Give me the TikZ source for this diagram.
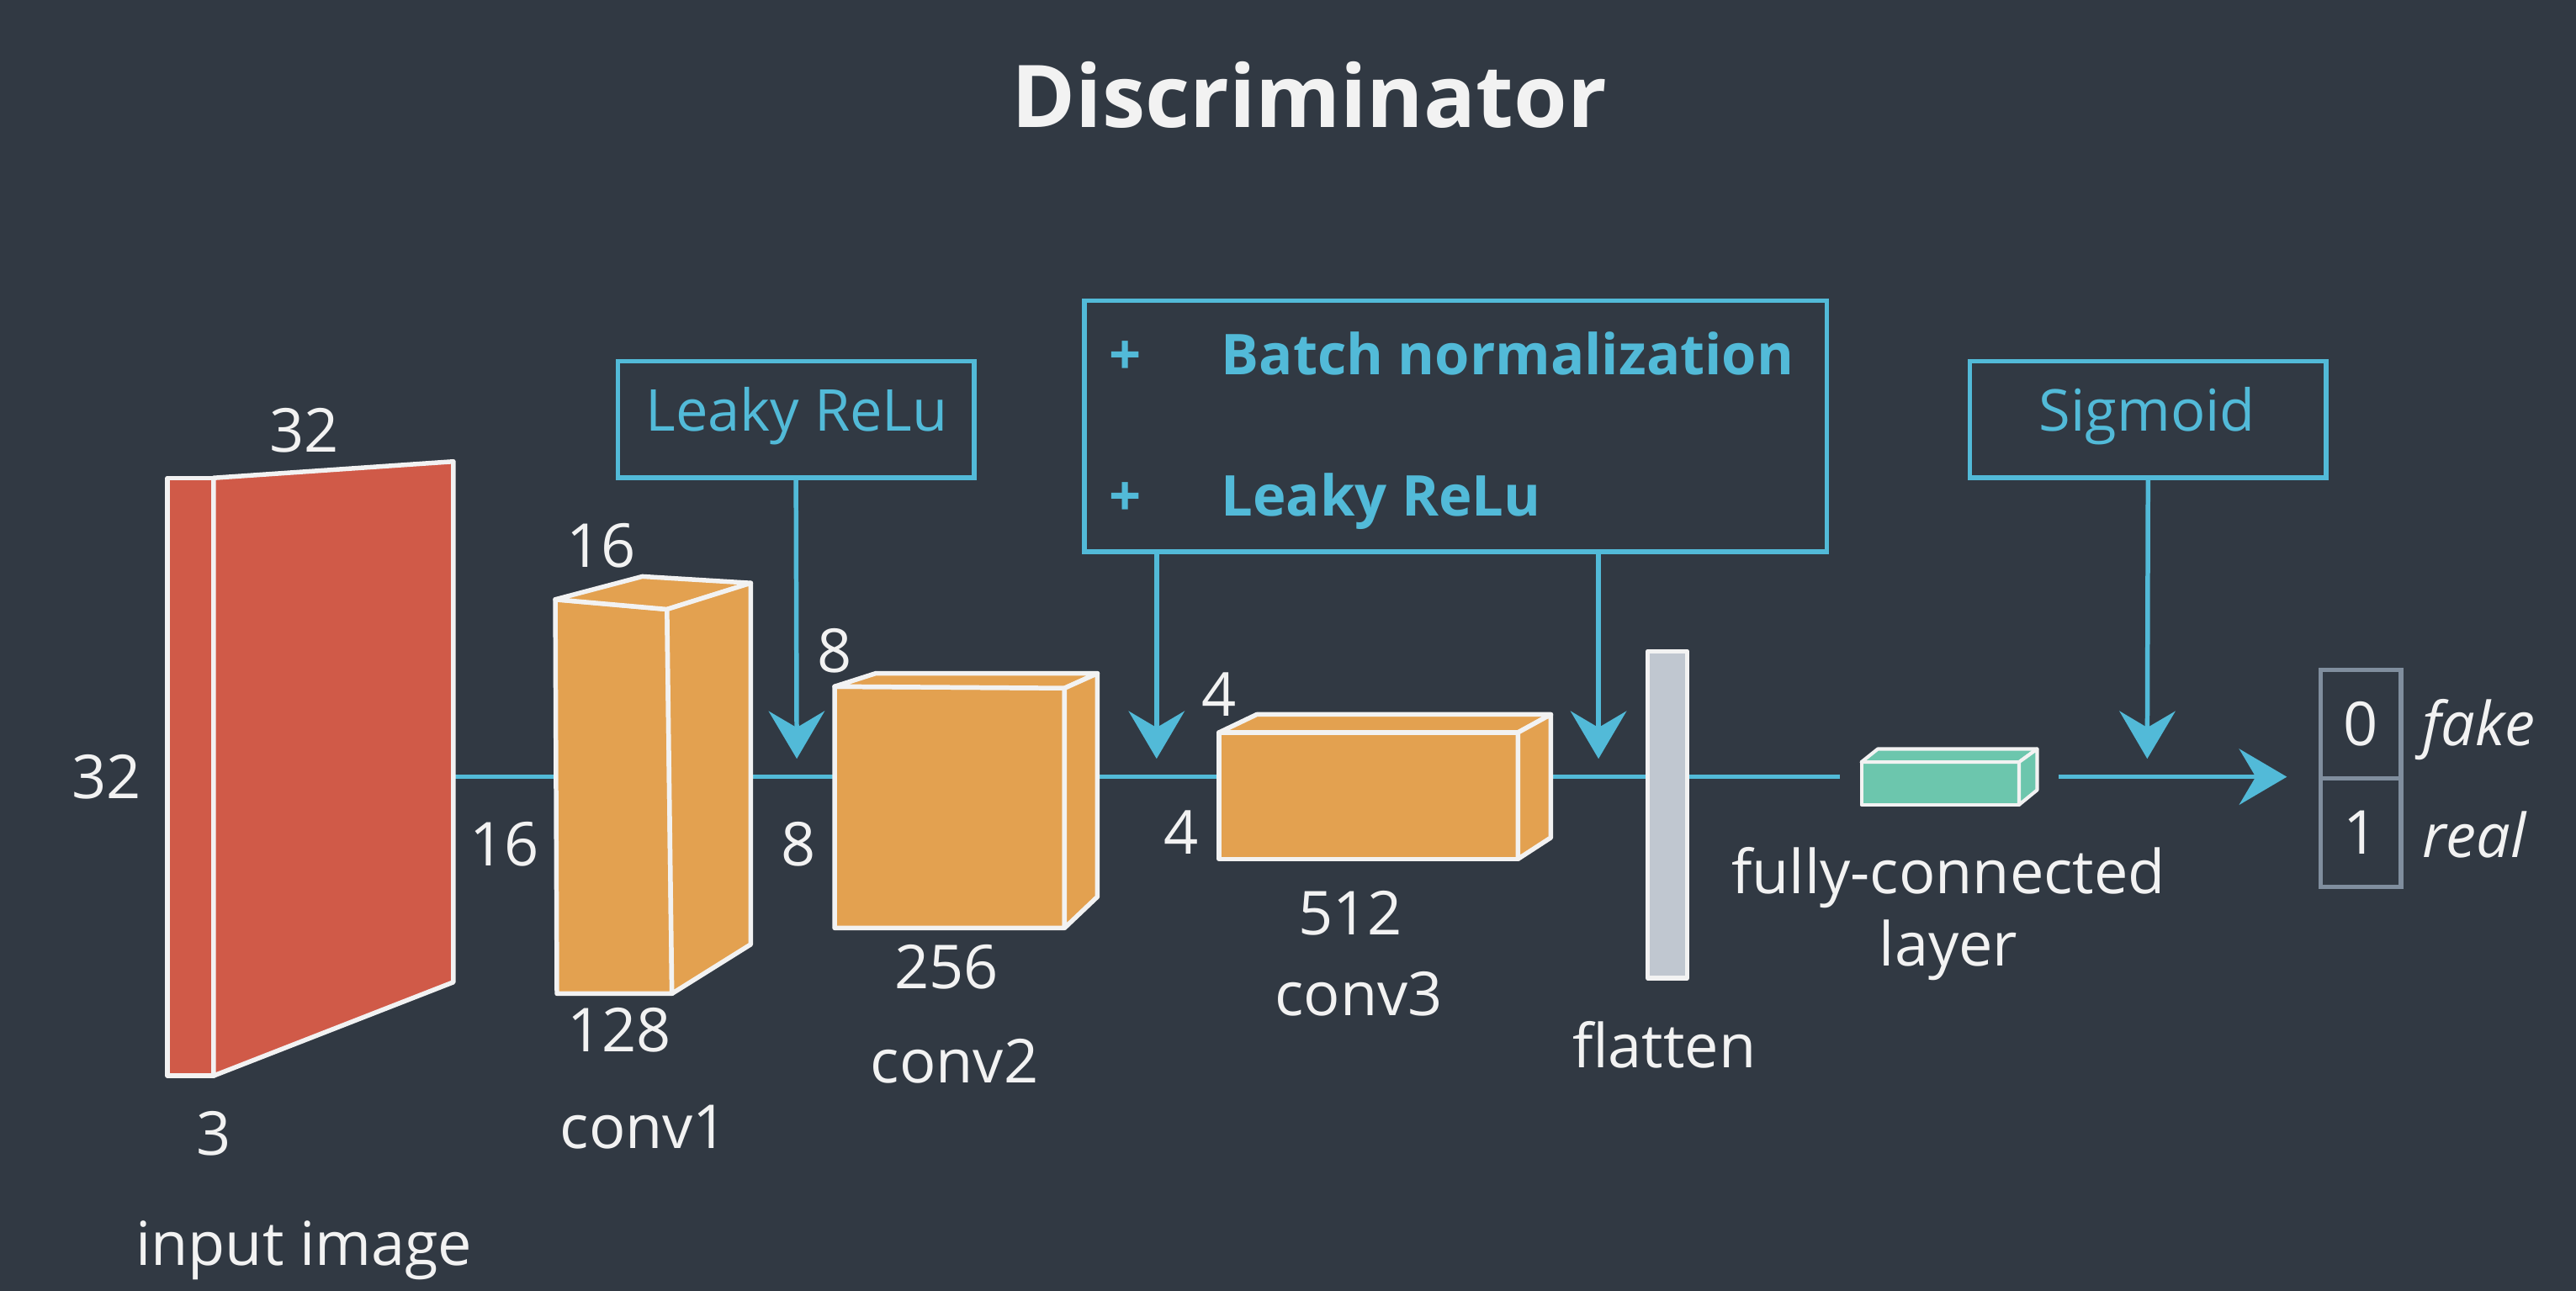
\documentclass[tikz,border=0pt]{standalone}
\usepackage{fontspec}
\setmainfont{Open Sans}
\usetikzlibrary{arrows.meta}

\definecolor{bgslate}{RGB}{49,57,67}
\definecolor{flowblue}{RGB}{82,186,216}
\definecolor{inred}{RGB}{208,90,72}
\definecolor{convorange}{RGB}{227,161,80}
\definecolor{fcteal}{RGB}{108,198,173}
\definecolor{flatgray}{RGB}{192,199,208}
\definecolor{outgray}{RGB}{128,142,158}
\definecolor{labelwhite}{RGB}{242,242,242}

\begin{document}
\begin{tikzpicture}[x=0.02cm,y=-0.02cm,
  face/.style={draw=labelwhite, line width=1.6pt, line join=round},
  lbl/.style={text=labelwhite, inner sep=0pt, font=\fontsize{21}{25}\selectfont, text height=15pt, text depth=0pt},
  fnbox/.style={draw=flowblue, line width=1.6pt, inner sep=0pt},
  fntext/.style={text=flowblue, inner sep=0pt, font=\fontsize{20}{24}\selectfont, text height=14pt, text depth=0pt},
  boldtext/.style={fntext, font=\fontsize{19.5}{24}\selectfont\bfseries},
  flowline/.style={draw=flowblue, line width=1.6pt},
  flowarrow/.style={flowline, -{Stealth[length=0.58cm, width=0.68cm, inset=0.2cm]}},
  outcell/.style={draw=outgray, line width=1.6pt, minimum width=0.98cm, minimum height=1.32cm, inner sep=0pt, text=labelwhite, font=\fontsize{21}{25}\selectfont}]

\fill[bgslate] (0,0) rectangle (1568,786);
\useasboundingbox (0,0) rectangle (1568,786);

\node[text=labelwhite, font=\fontsize{30}{36}\selectfont\bfseries] (title) at (797,58) {Discriminator};

% flow line
\coordinate (inR) at (276,473);
\coordinate (fcL) at (1120,473);
\coordinate (fcR) at (1253,473);
\coordinate (outtip) at (1392,473);
\draw[flowline] (inR) -- (fcL);
\draw[flowarrow] (fcR) -- (outtip);

% input image
\filldraw[face, fill=inred] (102,291) rectangle (130,655);
\filldraw[face, fill=inred] (130,291) -- (276,281) -- (276,598) -- (130,655) -- cycle;
\node[lbl] (inw) at (185,262) {32};
\node[lbl] (inh) at (65,473) {32};
\node[lbl] (inc) at (130,690) {3};
\node[lbl] (inname) at (185,757) {input image};

% conv1
\filldraw[face, fill=convorange] (338,365) -- (406,371) -- (409,605) -- (339,605) -- cycle;
\filldraw[face, fill=convorange] (338,365) -- (391,351) -- (457,355) -- (406,371) -- cycle;
\filldraw[face, fill=convorange] (406,371) -- (457,355) -- (457,575) -- (409,605) -- cycle;
\node[lbl] (c1w) at (366,332) {16};
\node[lbl] (c1h) at (307,514) {16};
\node[lbl] (c1d) at (377,627) {128};
\node[lbl] (c1name) at (392,686) {conv1};

% conv2
\filldraw[face, fill=convorange] (508,418) -- (648,419) -- (648,565) -- (508,565) -- cycle;
\filldraw[face, fill=convorange] (508,418) -- (533,410) -- (668,410) -- (648,419) -- cycle;
\filldraw[face, fill=convorange] (648,419) -- (668,410) -- (668,546) -- (648,565) -- cycle;
\node[lbl] (c2w) at (508,396) {8};
\node[lbl] (c2h) at (486,514) {8};
\node[lbl] (c2d) at (576,589) {256};
\node[lbl] (c2name) at (581,646) {conv2};

% conv3
\filldraw[face, fill=convorange] (742,446) -- (924,446) -- (924,523) -- (742,523) -- cycle;
\filldraw[face, fill=convorange] (742,446) -- (765,435) -- (944,435) -- (924,446) -- cycle;
\filldraw[face, fill=convorange] (924,446) -- (944,435) -- (944,510) -- (924,523) -- cycle;
\node[lbl] (c3w) at (742,423) {4};
\node[lbl] (c3h) at (719,507) {4};
\node[lbl] (c3d) at (822,556) {512};
\node[lbl] (c3name) at (827,605) {conv3};

% flatten
\node[face, fill=flatgray, minimum width=0.48cm, minimum height=3.98cm, inner sep=0pt] (flat) at (1015,496) {};
\node[lbl] (flatname) at (1013,637) {flatten};

% fully-connected
\filldraw[face, line width=1.2pt, fill=fcteal] (1133,464) -- (1229,464) -- (1229,490) -- (1133,490) -- cycle;
\filldraw[face, line width=1.2pt, fill=fcteal] (1133,464) -- (1143,456) -- (1240,456) -- (1229,464) -- cycle;
\filldraw[face, line width=1.2pt, fill=fcteal] (1229,464) -- (1240,456) -- (1240,481) -- (1229,490) -- cycle;
\node[lbl] (fcname) at (1186,531) {fully-connected};
\node[lbl] (fcname2) at (1186,575) {layer};

% activations
\node[fnbox, minimum width=4.34cm, minimum height=1.42cm] (relu1) at (484.5,255.5) {};
\node[fntext] (relu1txt) at (485,250) {Leaky ReLu};
\node[fnbox, minimum width=9.04cm, minimum height=3.06cm] (bnrelu) at (886,259.5) {};
\node[boldtext] (plus1) at (685,216) {+};
\node[boldtext, anchor=west] (bntxt) at (743,216) {Batch normalization};
\node[boldtext] (plus2) at (685,302) {+};
\node[boldtext, anchor=west] (relu2txt) at (743,302) {Leaky ReLu};
\node[fnbox, minimum width=4.34cm, minimum height=1.42cm] (sigm) at (1307.5,255.5) {};
\node[fntext] (sigmtxt) at (1307,250) {Sigmoid};

\coordinate (tip1) at (485,462);
\coordinate (tip2) at (704,462);
\coordinate (tip3) at (973,462);
\coordinate (tip4) at (1307,462);
\draw[flowarrow] (relu1.south) -- (tip1);
\draw[flowarrow] (bnrelu.south -| tip2) -- (tip2);
\draw[flowarrow] (bnrelu.south -| tip3) -- (tip3);
\draw[flowarrow] (sigm.south) -- (tip4);

% output
\node[outcell] (out0) at (1437,441) {0};
\node[outcell] (out1) at (1437,507) {1};
\node[lbl, anchor=west] (fake) at (1474,441) {\itshape fake};
\node[lbl, anchor=west] (real) at (1474,509) {\itshape real};
\end{tikzpicture}
\end{document}
